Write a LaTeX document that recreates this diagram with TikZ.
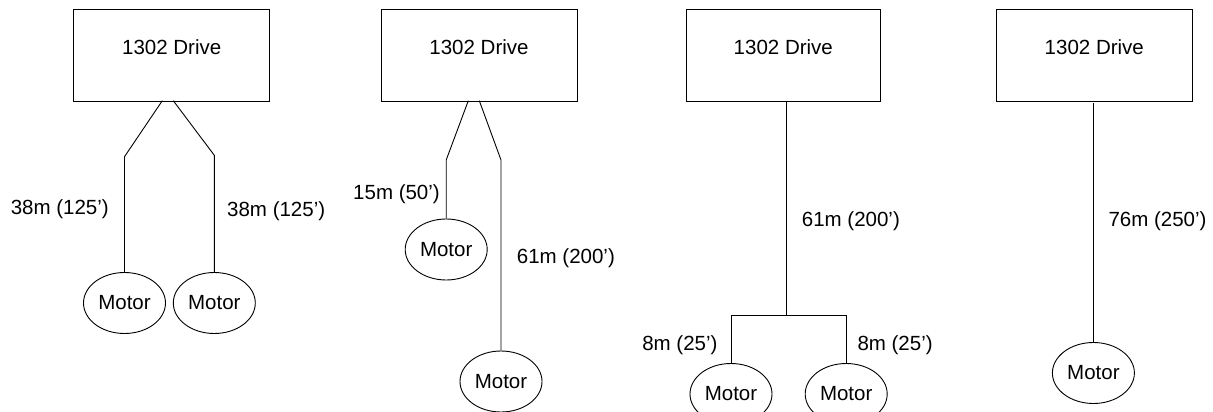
\documentclass[tikz,border=0pt]{standalone}
\usepackage{fontspec}
\setmainfont{Liberation Sans}
\usetikzlibrary{shapes.geometric}
\begin{document}
\begin{tikzpicture}[x=1pt,y=-1pt,
  every node/.style={font=\fontsize{20.5}{24}\selectfont},
  drivebox/.style={draw, line width=0.9pt, minimum width=196pt, minimum height=92pt, inner sep=0pt, text height=15pt, text depth=16.4pt},
  motor/.style={draw, ellipse, line width=0.9pt, minimum width=82pt, minimum height=61pt, inner sep=0pt},
  wire/.style={line width=0.9pt},
  lbl/.style={inner sep=0pt}]
\clip (0,0) rectangle (1213,412);
\fill[white] (0,0) rectangle (1213,412);

% Panel 1
\node[drivebox] (d1) at (171.7,55) {1302 Drive};
\node[motor] (m1a) at (124.5,303) {Motor};
\node[motor] (m1b) at (214.3,303) {Motor};
\coordinate (s1a) at (162.3,100.7);
\coordinate (s1b) at (173.3,100.7);
\coordinate (b1a) at (124.5,156.7);
\coordinate (b1b) at (214.3,155.3);
\draw[wire] (s1a) -- (b1a) -- (m1a.north);
\draw[wire] (s1b) -- (b1b) -- (m1b.north);
\node[lbl, anchor=east] (l1a) at (109,209) {38m (125’)};
\node[lbl, anchor=west] (l1b) at (227,211) {38m (125’)};

% Panel 2
\node[drivebox] (d2) at (479,55) {1302 Drive};
\node[motor] (m2a) at (446.2,249.5) {Motor};
\node[motor] (m2b) at (501,381.5) {Motor};
\coordinate (s2a) at (468.3,100.7);
\coordinate (s2b) at (479.3,100.7);
\coordinate (b2a) at (446.2,160);
\coordinate (b2b) at (501,160);
\draw[wire] (s2a) -- (b2a) -- (m2a.north);
\draw[wire] (s2b) -- (b2b) -- (m2b.north);
\node[lbl, anchor=east] (l2a) at (440,194) {15m (50’)};
\node[lbl, anchor=west] (l2b) at (516.7,258) {61m (200’)};

% Panel 3
\node[drivebox, minimum width=194pt] (d3) at (783.3,55) {1302 Drive};
\node[motor] (m3a) at (731,394) {Motor};
\node[motor] (m3b) at (846.2,394) {Motor};
\coordinate (j3) at (786.3,315.7);
\draw[wire] (d3.south -| j3) -- (j3);
\draw[wire] (m3a.north) |- (j3) -| (m3b.north);
\node[lbl, anchor=west] (l3) at (801.7,221) {61m (200’)};
\node[lbl, anchor=east] (l3a) at (717.7,345.5) {8m (25’)};
\node[lbl, anchor=west] (l3b) at (857.3,345.5) {8m (25’)};

% Panel 4
\node[drivebox] (d4) at (1094.3,55) {1302 Drive};
\node[motor] (m4) at (1093.4,373) {Motor};
\draw[wire] ([yshift=-2pt]d4.south -| m4.north) -- (m4.north);
\node[lbl, anchor=west] (l4) at (1108.3,221) {76m (250’)};
\end{tikzpicture}
\end{document}
